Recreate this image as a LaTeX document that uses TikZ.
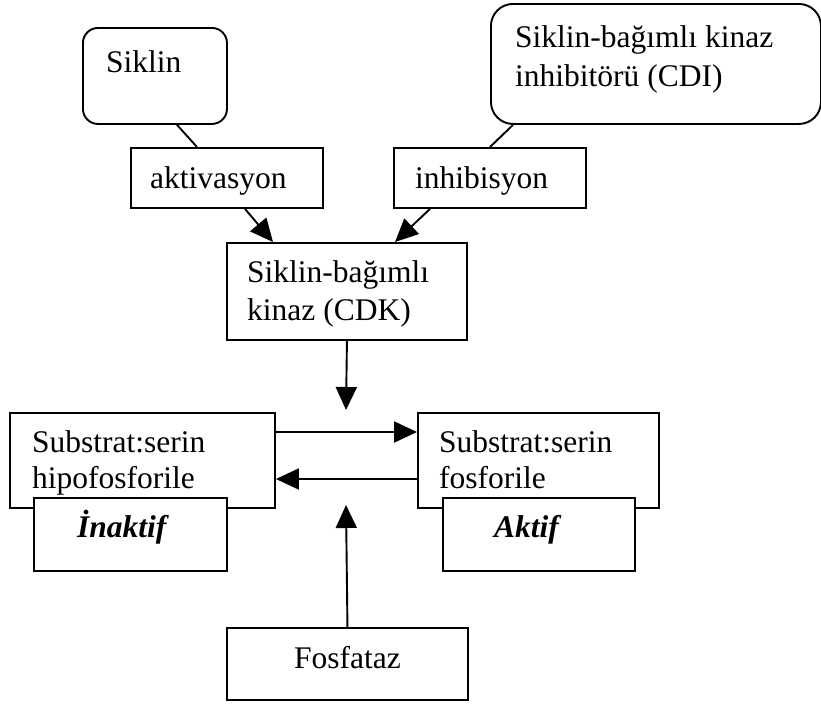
\documentclass[tikz,border=0pt]{standalone}
\usepackage{fontspec}
\setmainfont{Liberation Serif}
\usetikzlibrary{arrows.meta,calc}
\begin{document}
\begin{tikzpicture}[x=1pt,y=-1pt,
  box/.style={draw,line width=1.9pt,fill=white,inner sep=0pt,anchor=north west},
  rbox/.style={box,rounded corners=#1},
  txt/.style={anchor=base west,inner sep=0pt,font=\fontsize{31.5}{36}\selectfont},
  btxt/.style={txt,font=\fontsize{31.5}{36}\selectfont\bfseries\itshape},
  conn/.style={line width=1.9pt},
  arr/.style={line width=1.9pt,-{Triangle[length=23pt,width=21pt]}}]
\useasboundingbox (0,0) rectangle (821,704);
% boxes
\node[rbox=15pt,minimum width=144pt,minimum height=96pt] (siklin) at (82,27) {};
\node[rbox=22pt,minimum width=330pt,minimum height=120pt] (cdi) at (490,3) {};
\node[box,minimum width=192pt,minimum height=60pt] (akt) at (130,147) {};
\node[box,minimum width=192pt,minimum height=60pt] (inh) at (393,147) {};
\node[box,minimum width=240pt,minimum height=97pt] (cdk) at (226,242) {};
\node[box,minimum width=265pt,minimum height=95pt] (subL) at (9,412) {};
\node[box,minimum width=241pt,minimum height=95pt] (subR) at (417,412) {};
\node[box,minimum width=193pt,minimum height=73pt] (inakt) at (33,497) {};
\node[box,minimum width=192pt,minimum height=73pt] (aktif) at (442,497) {};
\node[box,minimum width=241pt,minimum height=72pt] (fos) at (226,627) {};
% texts
\node[txt] (t-siklin) at (106,72) {Siklin};
\node[txt] (t-cdi1) at (515,47) {Siklin-bağımlı kinaz};
\node[txt] (t-cdi2) at (515,86) {inhibitörü (CDI)};
\node[txt] (t-akt) at (150,188) {aktivasyon};
\node[txt] (t-inh) at (415,188) {inhibisyon};
\node[txt] (t-cdk1) at (247,282) {Siklin-bağımlı};
\node[txt] (t-cdk2) at (247,320) {kinaz (CDK)};
\node[txt] (t-subL1) at (32,452) {Substrat:serin};
\node[txt] (t-subL2) at (32,488) {hipofosforile};
\node[txt] (t-subR1) at (439,452) {Substrat:serin};
\node[txt] (t-subR2) at (439,488) {fosforile};
\node[btxt] (t-inakt) at (77,537) {İnaktif};
\node[btxt] (t-aktif) at (494,537) {Aktif};
\node[txt] (t-fos) at (294,668) {Fosfataz};
% connectors
\coordinate (downend) at (346,410);
\coordinate (upend) at (346,505);
\draw[conn] ([xshift=95pt]siklin.south west) -- ([xshift=67pt]akt.north west);
\draw[conn] ([xshift=23pt]cdi.south west) -- ([xshift=97pt]inh.north west);
\draw[arr] ([xshift=115pt]akt.south west) -- ([xshift=47pt]cdk.north west);
\draw[arr] ([xshift=37pt]inh.south west) -- ([xshift=169pt]cdk.north west);
\draw[arr] (cdk.south) -- (downend);
\draw[arr] ([yshift=-20pt]subL.north east) -- ([yshift=-20pt]subR.north west);
\draw[arr] ([yshift=-67pt]subR.north west) -- ([yshift=-67pt]subL.north east);
\draw[arr] (fos.north) -- (upend);
\end{tikzpicture}
\end{document}
